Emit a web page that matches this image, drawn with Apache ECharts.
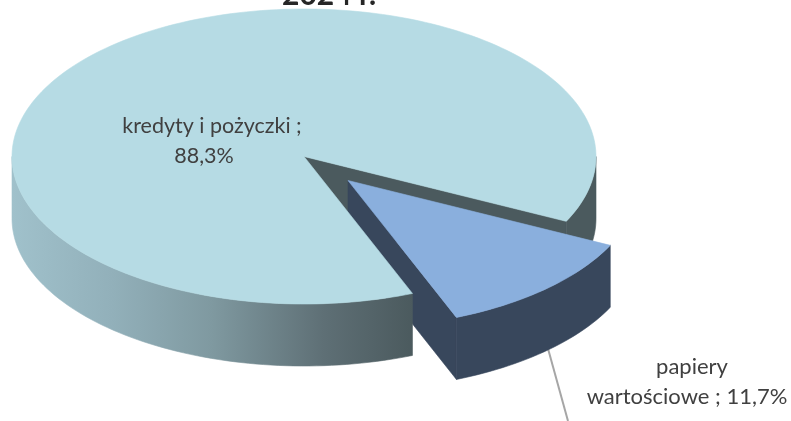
<!DOCTYPE html>
<html><head><meta charset="utf-8">
<style>html,body{margin:0;padding:0;background:#fff;overflow:hidden}#c{width:791px;height:421px}</style>
<script src="https://cdn.jsdelivr.net/npm/echarts@6/dist/echarts.min.js"></script>
</head><body><div id="c"></div>
<script>
var categories = ['kredyty i pożyczki', 'papiery wartościowe'];
var shares = [88.3, 11.7];
var titleText = '2024 r.';
var topColors = ['#b6dbe4', '#8aafdd'];
var wallColors = ['#4b5a5e', '#38475c'];

var cx = 304, cy = 156.5, rx = 292, ry = 147.5, depth = 62;
var explodeX = 44, explodeY = 24;
var firstAngle = 68.2;

var total = shares.reduce(function (a, b) { return a + b; }, 0);
function sweepOf(v) { return v / total * 360; }
function pt(deg, ox, oy, dz) {
  var r = deg * Math.PI / 180;
  return [cx + ox + rx * Math.cos(r), cy + oy + ry * Math.sin(r) + (dz || 0)];
}
function arc(a0, a1, ox, oy, dz) {
  var n = Math.max(2, Math.ceil(Math.abs(a1 - a0) / 1.5)), out = [];
  for (var i = 0; i <= n; i++) out.push(pt(a0 + (a1 - a0) * i / n, ox, oy, dz));
  return out;
}
function poly(points, fill, z2) {
  return { type: 'polygon', z2: z2, shape: { points: points },
    style: { fill: fill, stroke: fill, lineWidth: 0.6, lineJoin: 'round' } };
}
function text(s, x, y, size) {
  return { type: 'text', z2: 20, style: {
    text: s, x: x, y: y, fill: '#404040', font: size + 'px Lato, "Open Sans", sans-serif',
    textAlign: 'center', textVerticalAlign: 'middle' } };
}
var sideGradient = new echarts.graphic.LinearGradient(0, 0, 1, 0, [
  { offset: 0, color: '#a0c1cb' }, { offset: 0.25, color: '#92b0ba' },
  { offset: 0.5, color: '#7f99a0' }, { offset: 0.78, color: '#5e6f75' }, { offset: 1, color: '#4b5a5e' }
]);

function renderItem(params, api) {
  var idx = params.dataIndex;
  var value = api.value(0);
  var children = [];
  if (idx === 0) {
    var a0 = firstAngle, a1 = firstAngle + sweepOf(value);
    var a1Norm = a1 - 360;
    var e = pt(a1, 0, 0), c = [cx, cy];
    children.push(poly([c, e, [e[0], e[1] + depth], [c[0], c[1] + depth]], wallColors[0], 1));
    children.push(poly(arc(0, a1Norm, 0, 0).concat(arc(a1Norm, 0, 0, 0, depth)), wallColors[0], 1));
    children.push(poly(arc(a0, 180, 0, 0).concat(arc(180, a0, 0, 0, depth)), sideGradient, 10));
    children.push(poly([c].concat(arc(a0, a1, 0, 0)), topColors[0], 11));
    children.push(text(categories[0] + ' ;', 212, 126, 21.5));
    children.push(text(String(value).replace('.', ',') + '%', 204, 156, 21.5));
  } else {
    var b0 = firstAngle - sweepOf(value), b1 = firstAngle;
    var ap = [cx + explodeX, cy + explodeY];
    var q = pt(b1, explodeX, explodeY);
    children.push({ type: 'line', z2: 2, shape: { x1: 547, y1: 345, x2: 568, y2: 421 },
      style: { stroke: '#a6a6a6', lineWidth: 2 } });
    children.push(poly([ap, q, [q[0], q[1] + depth], [ap[0], ap[1] + depth]], wallColors[1], 3));
    children.push(poly(arc(b0, b1, explodeX, explodeY).concat(arc(b1, b0, explodeX, explodeY, depth)), wallColors[1], 3));
    children.push(poly([ap].concat(arc(b0, b1, explodeX, explodeY)), topColors[1], 4));
    var parts = categories[1].split(' ');
    children.push(text(parts[0], 692, 367, 22));
    children.push(text(parts[1] + ' ; ' + String(value).replace('.', ',') + '%', 687, 397, 22));
  }
  return { type: 'group', children: children };
}

var chart = echarts.init(document.getElementById('c'), null, { renderer: 'canvas' });
chart.setOption({
  animation: false,
  backgroundColor: '#ffffff',
  title: { text: titleText, left: 324, top: -25, textAlign: 'center',
    textStyle: { fontFamily: 'Lato, sans-serif', fontSize: 30, fontWeight: 'bold', color: '#262626' } },
  series: [{
    type: 'custom',
    coordinateSystem: 'none',
    renderItem: renderItem,
    data: shares.map(function (v, i) { return { name: categories[i], value: [v] }; }),
    clip: false
  }]
});
</script></body></html>
